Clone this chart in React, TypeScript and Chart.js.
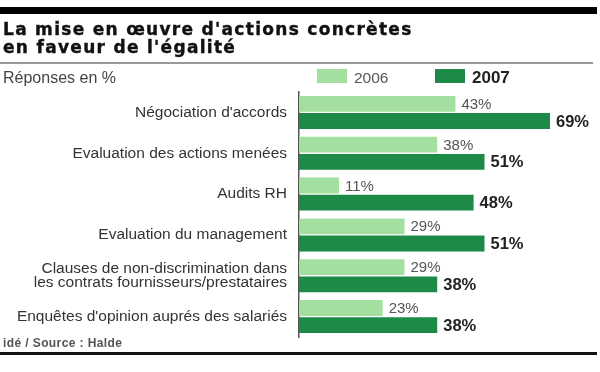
import React, { useEffect, useRef } from "react";
import { Chart, registerables } from "chart.js";

Chart.register(...registerables);

const categories: (string | string[])[] = [
  "Négociation d'accords",
  "Evaluation des actions menées",
  "Audits RH",
  "Evaluation du management",
  ["Clauses de non-discrimination dans", "les contrats fournisseurs/prestataires"],
  "Enquêtes d'opinion auprés des salariés",
];
const values2006 = [43, 38, 11, 29, 29, 23];
const values2007 = [69, 51, 48, 51, 38, 38];
const seriesNames = ["2006", "2007"];
const titleLines = ["La mise en œuvre d'actions concrètes", "en faveur de l'égalité"];
const unitText = "Réponses en %";
const sourceText = "idé / Source : Halde";

const LIGHT = "#a3e0a0";
const DARK = "#1d8b47";
const SANS = "'Liberation Sans', Arial, Helvetica, sans-serif";

const valueLabels = {
  id: "valueLabels",
  afterDatasetsDraw(chart: any) {
    const ctx = chart.ctx;
    ctx.save();
    ctx.textBaseline = "middle";
    ctx.textAlign = "left";
    chart.data.datasets.forEach((ds: any, di: number) => {
      const meta = chart.getDatasetMeta(di);
      meta.data.forEach((el: any, i: number) => {
        if (di === 0) {
          ctx.font = `15px ${SANS}`;
          ctx.fillStyle = "#555555";
        } else {
          ctx.font = `bold 16.5px ${SANS}`;
          ctx.fillStyle = "#222222";
        }
        ctx.fillText(`${ds.data[i]}%`, el.x + 6, el.y + 1);
      });
    });
    ctx.restore();
  },
};

export default function App() {
  const ref = useRef<HTMLCanvasElement | null>(null);

  useEffect(() => {
    if (!ref.current) return;
    const chart = new Chart(ref.current, {
      type: "bar",
      data: {
        labels: categories as any,
        datasets: [
          {
            label: seriesNames[0],
            data: values2006,
            backgroundColor: LIGHT,
            categoryPercentage: 0.84,
            barPercentage: 0.92,
          },
          {
            label: seriesNames[1],
            data: values2007,
            backgroundColor: DARK,
            categoryPercentage: 0.84,
            barPercentage: 0.92,
          },
        ],
      },
      options: {
        indexAxis: "y",
        animation: false,
        responsive: false,
        devicePixelRatio: 1,
        layout: { padding: { top: 92, bottom: 35, left: 0, right: 10 } },
        plugins: {
          legend: { display: false },
          tooltip: { enabled: false },
        },
        scales: {
          x: { display: false, min: 0, max: 80 },
          y: {
            grid: { display: false, drawTicks: false },
            border: { display: true, color: "#555555", width: 1.5 },
            ticks: {
              color: "#333333",
              padding: 12,
              font: { family: SANS, size: 15.5, lineHeight: 0.9 },
            },
            afterFit(scale: any) {
              scale.width = 299;
            },
          },
        },
      },
      plugins: [valueLabels],
    });
    return () => chart.destroy();
  }, []);

  const abs = (o: React.CSSProperties): React.CSSProperties => ({ position: "absolute", margin: 0, ...o });

  return (
    <div style={{ position: "fixed", left: 0, top: 0, width: 600, height: 372, background: "#fff", overflow: "hidden" }}>
      <canvas ref={ref} width={600} height={372} style={abs({ left: 0, top: 0, width: 600, height: 372 })} />
      <div style={abs({ left: 0, top: 7, width: 597, height: 7, background: "#000" })} />
      <div
        style={abs({
          left: 3,
          top: 20,
          fontFamily: "'DejaVu Sans', sans-serif",
          fontWeight: 700,
          fontSize: 17,
          lineHeight: "18px",
          letterSpacing: "1.3px",
          color: "#111",
          whiteSpace: "nowrap",
          WebkitTextStroke: "0.4px #111",
        } as React.CSSProperties)}
      >
        {titleLines.map((t, i) => (
          <div key={i}>{t}</div>
        ))}
      </div>
      <div style={abs({ left: 0, top: 62, width: 593, height: 2, background: "#999" })} />
      <div style={abs({ left: 3, top: 69.5, fontFamily: SANS, fontSize: 16, lineHeight: "16px", color: "#444", whiteSpace: "nowrap" })}>
        {unitText}
      </div>
      <div style={abs({ left: 317, top: 69, width: 30, height: 14, background: LIGHT })} />
      <div style={abs({ left: 354, top: 70, fontFamily: SANS, fontSize: 15.5, lineHeight: "15px", color: "#555" })}>
        {seriesNames[0]}
      </div>
      <div style={abs({ left: 435, top: 69, width: 30, height: 14, background: DARK })} />
      <div style={abs({ left: 472, top: 69.5, fontFamily: SANS, fontWeight: 700, fontSize: 17, lineHeight: "15px", color: "#222" })}>
        {seriesNames[1]}
      </div>
      <div
        style={abs({
          left: 3,
          top: 337.5,
          fontFamily: SANS,
          fontWeight: 700,
          fontSize: 12,
          lineHeight: "11px",
          letterSpacing: "0.4px",
          color: "#555",
          whiteSpace: "nowrap",
        })}
      >
        {sourceText}
      </div>
      <div style={abs({ left: 0, top: 352, width: 597, height: 3, background: "#111" })} />
    </div>
  );
}
